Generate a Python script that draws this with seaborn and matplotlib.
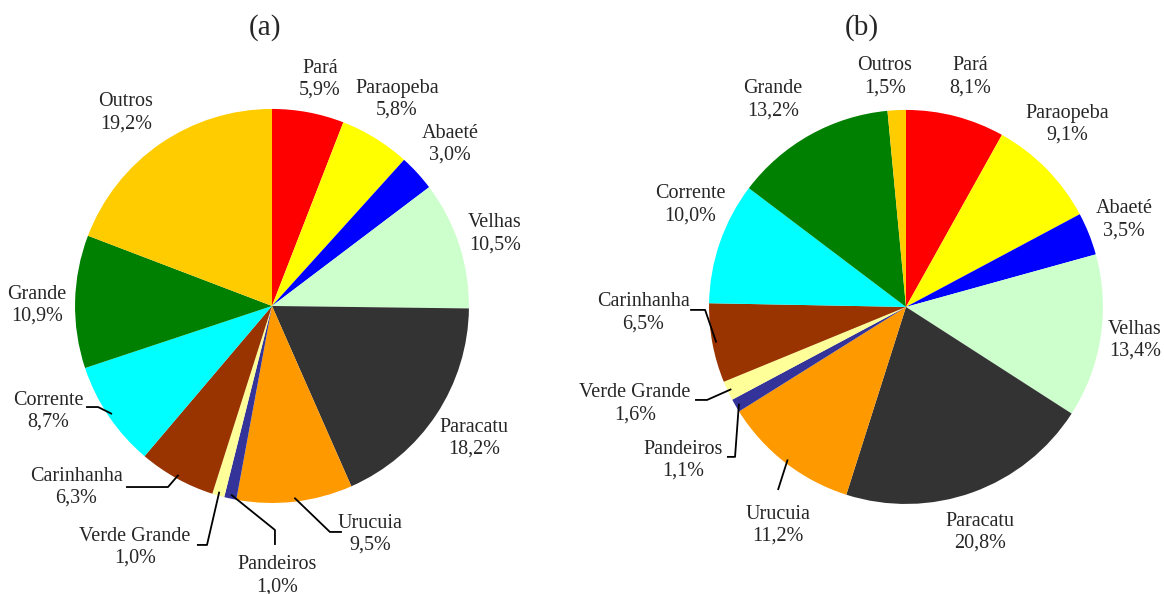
import numpy as np
import matplotlib
matplotlib.use("Agg")
import matplotlib.pyplot as plt
import seaborn as sns

sns.set_theme(style="white")
plt.rcParams["font.family"] = ["Liberation Serif", "DejaVu Serif"]

# data
rivers = ["Pará", "Paraopeba", "Abaeté", "Velhas", "Paracatu", "Urucuia",
          "Pandeiros", "Verde Grande", "Carinhanha", "Corrente", "Grande", "Outros"]
share_a = [5.9, 5.8, 3.0, 10.5, 18.2, 9.5, 1.0, 1.0, 6.3, 8.7, 10.9, 19.2]
share_b = [8.1, 9.1, 3.5, 13.4, 20.8, 11.2, 1.1, 1.6, 6.5, 10.0, 13.2, 1.5]
colors = ["#FF0000", "#FFFF00", "#0000FF", "#CCFFCC", "#333333", "#FF9900",
          "#333399", "#FFFF99", "#993300", "#00FFFF", "#008000", "#FFCC00"]

# label positions (pie radius units)
pos_a = {"Pará": (0.244, 1.152), "Paraopeba": (0.635, 1.051), "Abaeté": (0.904, 0.822),
         "Velhas": (1.132, 0.366), "Paracatu": (1.025, -0.670), "Urucuia": (0.497, -1.157),
         "Pandeiros": (0.025, -1.370), "Verde Grande": (-0.695, -1.223),
         "Carinhanha": (-0.995, -0.919), "Corrente": (-1.137, -0.533),
         "Grande": (-1.193, 0.005), "Outros": (-0.741, 0.980)}
pos_b = {"Pará": (0.325, 1.168), "Paraopeba": (0.817, 0.929), "Abaeté": (1.107, 0.442),
         "Velhas": (1.162, -0.168), "Paracatu": (0.376, -1.142), "Urucuia": (-0.650, -1.107),
         "Pandeiros": (-1.132, -0.777), "Verde Grande": (-1.376, -0.492),
         "Carinhanha": (-1.335, -0.030), "Corrente": (-1.096, 0.518),
         "Grande": (-0.675, 1.051), "Outros": (-0.107, 1.168)}

# leader lines: (elbow, end) ; start is on the wedge
lead_a = {"Corrente": [(-0.883, -0.513), (-0.944, -0.513)],
          "Carinhanha": [(-0.528, -0.919), (-0.741, -0.919)],
          "Verde Grande": [(-0.330, -1.213), (-0.381, -1.213)],
          "Pandeiros": [(0.015, -1.137), (0.015, -1.213)],
          "Urucuia": [(0.294, -1.147), (0.355, -1.147)]}
lead_b = {"Carinhanha": [(-1.020, -0.015), (-1.096, -0.015)],
          "Verde Grande": [(-1.010, -0.472), (-1.071, -0.472)],
          "Pandeiros": [(-0.868, -0.761), (-0.909, -0.761)],
          "Urucuia": [(-0.629, -0.863), (-0.650, -0.929)]}

fig = plt.figure(figsize=(11.64, 5.94), dpi=100)
ax_a = fig.add_axes([0, 0, 0.5, 1])
ax_b = fig.add_axes([0.5, 0, 0.5, 1])


def draw(ax, values, pos, lead, title, xlim, ylim, title_x):
    ax.pie(values, colors=colors, startangle=90, counterclock=False,
           wedgeprops=dict(linewidth=0))
    ax.set_aspect("auto")
    ax.set_xlim(*xlim)
    ax.set_ylim(*ylim)
    ax.axis("off")
    cum = np.cumsum([0] + list(values))
    total = cum[-1]
    for i, name in enumerate(rivers):
        x, y = pos[name]
        txt = f"{name}\n{values[i]:.1f}%".replace(".", ",")
        ax.text(x, y, txt, ha="center", va="center", fontsize=14.5,
                linespacing=1.2)
        if name in lead:
            mid = (cum[i] + cum[i + 1]) / 2 / total
            ang = np.deg2rad(90 - 360 * mid)
            pts = [(0.98 * np.cos(ang), 0.98 * np.sin(ang))] + lead[name]
            xs, ys = zip(*pts)
            ax.plot(xs, ys, color="black", lw=1.3, solid_capstyle="butt")
    ax.text(title_x, ylim[1] - 0.14, title, ha="center", va="center",
            fontsize=21)


draw(ax_a, share_a, pos_a, lead_a, "(a)", (-1.381, 1.574), (-1.462, 1.553), -0.035)
draw(ax_b, share_b, pos_b, lead_b, "(b)", (-1.645, 1.310), (-1.457, 1.558), -0.223)

fig.savefig("out.png", dpi=100)
